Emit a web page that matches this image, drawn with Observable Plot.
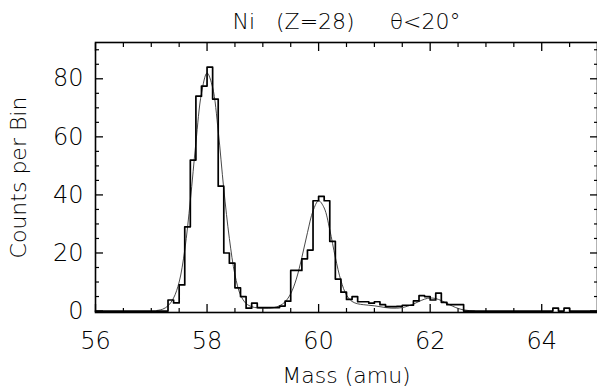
<!DOCTYPE html>
<html><head><meta charset="utf-8">
<script src="https://cdn.jsdelivr.net/npm/d3@7"></script>
<script src="https://cdn.jsdelivr.net/npm/@observablehq/plot@0.6"></script>
<style>html,body{margin:0;padding:0;background:#fff}</style>
</head><body><div id="chart"></div>
<script>
// Histogram bins (left edge, amu) and counts per bin
const binLeft = [57.2,57.3,57.4,57.5,57.6,57.7,57.8,57.9,58.0,58.1,58.2,58.3,58.4,58.5,58.6,58.7,58.8,58.9,
  59.0,59.1,59.2,59.3,59.4,59.5,59.6,59.7,59.8,59.9,60.0,60.1,60.2,60.3,60.4,60.5,60.6,60.7,60.8,60.9,
  61.0,61.1,61.2,61.3,61.4,61.5,61.6,61.7,61.8,61.9,62.0,62.1,62.2,62.3,62.4,62.5,62.6];
const counts = [0,3.8,2.8,9,29,52,74,77.5,84,73,43,20,16.5,8,5,1,2.7,1.2,
  1.2,1.2,1.2,1.7,3.4,14,14,18,21,38,39.5,38,24,11,6.5,4,5,3.2,3.2,2.7,
  3.2,2.2,1.5,1.5,1.6,2,2,3.5,5.3,5,3.8,6.2,3,2.2,2.2,2.2,0];
const tailBins = [64.2, 64.4];
const tailCounts = [1, 1];

// Fitted curve
const fitMass = [57.1,57.2,57.3,57.4,57.5,57.6,57.7,57.8,57.9,58.0,58.1,58.2,58.3,58.4,58.5,58.6,58.7,58.8,58.9,
  59.0,59.1,59.2,59.3,59.4,59.5,59.6,59.7,59.8,59.9,60.0,60.1,60.2,60.3,60.4,60.5,60.6,60.7,60.8,60.9,
  61.0,61.1,61.2,61.3,61.4,61.5,61.6,61.7,61.8,61.9,62.0,62.1,62.2,62.3,62.4,62.5,62.6,62.7,62.8];
const fitCounts = [0.2,0.6,1.8,4.5,10,21,38,58,75,82,77,62,42,25,12.5,5.5,2.6,1.5,1.1,
  1.0,1.0,1.2,1.8,3.2,6,11,18.5,27,34.5,38,35.5,28,18.5,10.5,5.5,3.3,2.5,2.2,2.0,
  1.8,1.5,1.2,1.0,1.0,1.2,1.7,2.4,3.3,4.1,4.5,4.3,3.6,2.6,1.7,0.9,0.4,0.15,0];

// Axis ticks
const xDomain = [56, 65];
const yDomain = [-0.5, 92.5];
const xMajor = [56, 58, 60, 62, 64];
const xMinor = [56.5,57,57.5,58.5,59,59.5,60.5,61,61.5,62.5,63,63.5,64.5];
const yMajor = [0, 20, 40, 60, 80];
const yMinor = [5,10,15,25,30,35,45,50,55,65,70,75,85,90];

const titleText = "Ni\u00A0\u00A0\u00A0(Z=28)\u00A0\u00A0\u00A0\u00A0\u00A0\u03B8<20\u00B0";
const xLabel = "Mass (amu)";
const yLabel = "Counts per Bin";

// Build step series
const w = binLeft[1] - binLeft[0];
const hist = [{m: xDomain[0], c: 0}];
binLeft.forEach((m, i) => hist.push({m, c: counts[i]}));
tailBins.forEach((m, i) => { hist.push({m, c: tailCounts[i]}); hist.push({m: m + w, c: 0}); });
hist.push({m: xDomain[1], c: 0});
const fit = fitMass.map((m, i) => ({m, c: fitCounts[i]}));

const font = "DejaVu Sans, sans-serif";
const fs = 22;
const fsTick = 24;
const fw = 300;
const blank = () => "";

const chart = Plot.plot({
  width: 597, height: 390,
  marginTop: 42, marginBottom: 78, marginLeft: 95, marginRight: 0,
  style: {fontFamily: font, background: "#fff", color: "#000", overflow: "visible"},
  x: {domain: xDomain},
  y: {domain: yDomain},
  marks: [
    Plot.frame({stroke: "#000", strokeWidth: 1.6}),
    // major ticks (inward) on all four sides
    Plot.axisX({anchor: "bottom", ticks: xMajor, tickSize: -8, tickFormat: blank, label: null, strokeWidth: 1.3}),
    Plot.axisX({anchor: "top", ticks: xMajor, tickSize: -8, tickFormat: blank, label: null, strokeWidth: 1.3}),
    Plot.axisX({anchor: "bottom", ticks: xMinor, tickSize: -4, tickFormat: blank, label: null, strokeWidth: 1.2}),
    Plot.axisX({anchor: "top", ticks: xMinor, tickSize: -4, tickFormat: blank, label: null, strokeWidth: 1.2}),
    Plot.axisY({anchor: "left", ticks: yMajor, tickSize: -8, tickFormat: blank, label: null, strokeWidth: 1.3}),
    Plot.axisY({anchor: "right", ticks: yMajor, tickSize: -8, tickFormat: blank, label: null, strokeWidth: 1.3}),
    Plot.axisY({anchor: "left", ticks: yMinor, tickSize: -4, tickFormat: blank, label: null, strokeWidth: 1.2}),
    Plot.axisY({anchor: "right", ticks: yMinor, tickSize: -4, tickFormat: blank, label: null, strokeWidth: 1.2}),
    // tick labels
    Plot.axisX({anchor: "bottom", ticks: xMajor, tickSize: 0, tickPadding: 19, label: null, fontSize: fsTick, fontWeight: fw, fill: "#000"}),
    Plot.axisY({anchor: "left", ticks: yMajor, tickSize: 0, tickPadding: 12, label: null, fontSize: fsTick, fontWeight: fw, fill: "#000"}),
    // data
    Plot.line(fit, {x: "m", y: "c", curve: "catmull-rom", stroke: "#333", strokeWidth: 0.9}),
    Plot.line(hist, {x: "m", y: "c", curve: "step-after", stroke: "#000", strokeWidth: 1.7}),
    // titles
    Plot.text([titleText], {frameAnchor: "top", dy: -21, text: d => d, fontSize: fs, fontWeight: fw, fill: "#000", textAnchor: "middle", lineAnchor: "middle"}),
    Plot.text([xLabel], {frameAnchor: "bottom", dy: 63, text: d => d, fontSize: fs, fontWeight: fw, fill: "#000", textAnchor: "middle", lineAnchor: "middle"}),
    Plot.text([yLabel], {frameAnchor: "left", dx: -77, rotate: -90, text: d => d, fontSize: fs, fontWeight: fw, fill: "#000", textAnchor: "middle", lineAnchor: "middle"})
  ]
});
document.getElementById("chart").appendChild(chart);
</script>
</body></html>
